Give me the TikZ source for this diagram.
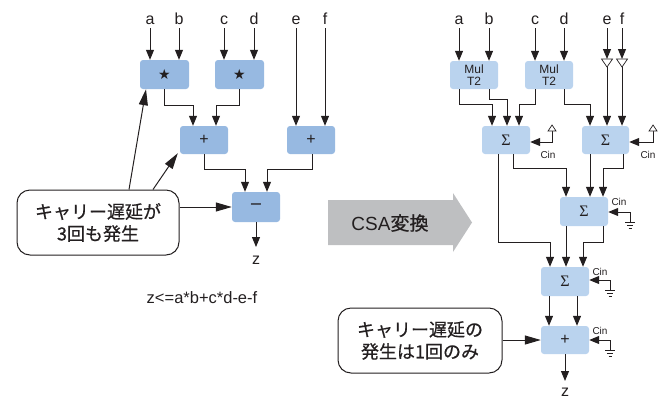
\documentclass[tikz,border=0pt]{standalone}
\usepackage{fontspec}
\setmainfont{Liberation Sans}
\newfontfamily\jp{Noto Sans CJK JP}[FakeBold=0.6]
\newfontfamily\dvs{DejaVu Sans}
\newfontfamily\lserif{Liberation Serif}
\usetikzlibrary{arrows.meta,calc}
\definecolor{ink}{RGB}{35,31,32}
\definecolor{boxL}{RGB}{151,185,225}
\definecolor{boxR}{RGB}{186,211,238}
\definecolor{csagray}{RGB}{190,191,193}
\begin{document}
\begin{tikzpicture}[x=1pt,y=-1pt,
  lbox/.style={fill=boxL, rounded corners=3pt, minimum width=48pt, minimum height=28pt, inner sep=0pt, text=ink},
  rbox/.style={lbox, fill=boxR},
  wire/.style={draw=ink, line width=1pt},
  arr/.style={wire, -{Triangle[length=10pt,width=8pt]}},
  carr/.style={wire, -{Triangle[length=16pt,width=9pt]}},
  inlbl/.style={font=\fontsize{16}{16}\selectfont, inner sep=0pt, anchor=base, text=ink},
  callout/.style={draw=ink, line width=1pt, rounded corners=13pt, minimum width=162pt, minimum height=65pt, align=center, font=\jp\fontsize{18}{22}\selectfont, inner sep=0pt, text=ink},
  cinlbl/.style={font=\fontsize{10}{10}\selectfont, inner sep=0pt, text=ink},
  sym/.style={font=\fontsize{16}{16}\selectfont},
  sigma/.style={font=\lserif\fontsize{16}{16}\selectfont},
  mul/.style={align=center, font=\fontsize{12}{12}\selectfont},
  gnd/.style={draw=ink, line width=0.8pt}
]
\useasboundingbox (0,0) rectangle (666,400);

% ================= LEFT =================
\node[lbox, minimum width=49pt, minimum height=29pt] (mA) at (164.5,74.5) {\dvs\fontsize{14}{14}\selectfont ★};
\node[lbox, minimum width=49pt, minimum height=29pt] (mB) at (239.5,74.5) {\dvs\fontsize{14}{14}\selectfont ★};
\node[lbox, sym] (pA) at (204,140) {+};
\node[lbox, sym] (pB) at (311,140) {+};
\node[lbox, minimum height=30pt, font=\dvs\fontsize{16}{16}\selectfont] (sb) at (256,207) {−};

\node[inlbl] (la) at (150,24) {a};
\node[inlbl] (lb) at (179,24) {b};
\node[inlbl] (lc) at (224,24) {c};
\node[inlbl] (ld) at (254,24) {d};
\node[inlbl] (le) at (296,24) {e};
\node[inlbl] (lf) at (325,24) {f};

\draw[arr] ([yshift=-4pt]la.base) -- (la.base |- mA.north);
\draw[arr] ([yshift=-4pt]lb.base) -- (lb.base |- mA.north);
\draw[arr] ([yshift=-4pt]lc.base) -- (lc.base |- mB.north);
\draw[arr] ([yshift=-4pt]ld.base) -- (ld.base |- mB.north);
\draw[arr] ([yshift=-4pt]le.base) -- (le.base |- pB.north);
\draw[arr] ([yshift=-4pt]lf.base) -- (lf.base |- pB.north);

\draw[arr] (mA.south) -- ++(0,16) -| ([xshift=-11pt]pA.north);
\draw[arr] (mB.south) -- ++(0,16) -| ([xshift=12pt]pA.north);
\draw[arr] (pA.south) -- ++(0,15) -| ([xshift=-11pt]sb.north);
\draw[arr] ([xshift=1pt]pB.south) -- ++(0,15) -| ([xshift=11pt]sb.north);

\coordinate (z1t) at (256,247);
\node[inlbl] (z1) at (256,264) {z};
\draw[arr] (sb.south) -- (z1t);

\node[callout] (co1) at (98,222.5) {キャリー遅延が\\3回も発生};
\draw[carr] ([xshift=31pt]co1.north) -- ([xshift=-18.5pt]mA.south);
\draw[carr] ([xshift=55pt]co1.north) -- ([xshift=-2pt,yshift=1pt]pA.south west);
\draw[carr] (co1.east |- sb.west) -- (sb.west);

\node[font=\fontsize{16.5}{16.5}\selectfont, text=ink, inner sep=0pt] (frm) at (202,298) {z<=a*b+c*d-e-f};

% ================= CSA ARROW =================
\fill[csagray] (328,200) -- (453,200) -- (453,193) -- (472,222.5) -- (453,252) -- (453,245) -- (328,245) -- cycle;
\node[font=\fontsize{19}{19}\selectfont, text=ink] (csa) at (390,223) {CSA{\jp 変換}};

% ================= RIGHT =================
\node[rbox, mul] (tA) at (474,75) {Mul\\T2};
\node[rbox, mul] (tB) at (549,75) {Mul\\T2};
\node[rbox, sigma] (s1) at (506,140) {Σ};
\node[rbox, sigma, minimum width=47pt] (s2) at (605.5,140) {Σ};
\node[rbox, sigma, minimum height=29pt] (s3) at (584,211.5) {Σ};
\node[rbox, sigma, minimum height=29pt] (s4) at (565,281.5) {Σ};
\node[rbox, sym] (ad) at (565,340) {+};

\node[inlbl] (ra) at (459,24) {a};
\node[inlbl] (rb) at (489,24) {b};
\node[inlbl] (rc) at (535,24) {c};
\node[inlbl] (rd) at (564,24) {d};
\node[inlbl] (re) at (607,24) {e};
\node[inlbl] (rf) at (622,24) {f};

\draw[arr] ([yshift=-4pt]ra.base) -- (ra.base |- tA.north);
\draw[arr] ([yshift=-4pt]rb.base) -- (rb.base |- tA.north);
\draw[arr] ([yshift=-4pt]rc.base) -- (rc.base |- tB.north);
\draw[arr] ([yshift=-4pt]rd.base) -- (rd.base |- tB.north);

% buffers on e and f
\coordinate (bE) at (607,59);
\coordinate (bEo) at (607,67);
\coordinate (bF) at (622,59);
\coordinate (bFo) at (622,67);
\draw[arr] ([yshift=-4pt]re.base) -- (bE);
\draw[arr] ([yshift=-4pt]rf.base) -- (bF);
\draw[draw=ink, line width=0.7pt, fill=white] (bE) ++(-5.5,0) -- ++(11,0) -- ++(-5.5,8) -- cycle;
\draw[draw=ink, line width=0.7pt, fill=white] (bF) ++(-5.5,0) -- ++(11,0) -- ++(-5.5,8) -- cycle;
\draw[arr] (bEo) -- (bEo |- s2.north);
\draw[arr] (bFo) -- (bFo |- s2.north);

% multiplier outputs
\draw[arr] ([xshift=-15pt]tA.south) -- ++(0,15) -| ([xshift=-14pt]s1.north);
\draw[arr] ([xshift=15pt]tA.south) -- ++(0,10) -| ([xshift=1pt]s1.north);
\draw[arr] ([xshift=-14pt]tB.south) -- ++(0,15) -| ([xshift=13pt]s1.north);
\draw[arr] ([xshift=15pt]tB.south) -- ++(0,15) -| ([xshift=-15.5pt]s2.north);

% Cin (open) for s1, s2
\coordinate (c1t) at (552,131);
\coordinate (c1b) at (552,142);
\draw[arr] (c1t) -- (c1b) -- (c1b -| s1.east);
\draw[draw=ink, line width=0.7pt, fill=white] (c1t) ++(-4,0) -- ++(8,0) -- ++(-4,-6) -- cycle;
\node[cinlbl] (cin1) at (548,155) {Cin};

\coordinate (c2t) at (653,131);
\coordinate (c2b) at (653,142);
\draw[arr] (c2t) -- (c2b) -- (c2b -| s2.east);
\draw[draw=ink, line width=0.7pt, fill=white] (c2t) ++(-4,0) -- ++(8,0) -- ++(-4,-6) -- cycle;
\node[cinlbl] (cin2) at (648,155) {Cin};

% s1, s2 outputs
\draw[arr] ([xshift=-8pt]s1.south) -- ++(0,88) -| ([xshift=-15pt]s4.north);
\draw[arr] ([xshift=7pt]s1.south) -- ++(0,14) -| ([xshift=-18pt]s3.north);
\draw[arr] ([xshift=-15.5pt]s2.south) -- ([xshift=-15.5pt]s2.south |- s3.north);
\draw[arr] ([xshift=17.5pt]s2.south) -- ++(0,14) -| ([xshift=19pt]s3.north);

% s3 Cin grounded
\coordinate (g3) at (630,212);
\coordinate (g3b) at (630,222);
\draw[arr] (g3b) -- (g3) -- (g3 -| s3.east);
\draw[gnd] (g3b) ++(-5,0) -- ++(10,0);
\draw[gnd] (g3b) ++(-3.2,3) -- ++(6.4,0);
\draw[gnd] (g3b) ++(-1.5,6) -- ++(3,0);
\node[cinlbl] (cin3) at (619,202) {Cin};

% s3 outputs
\draw[arr] ([xshift=-18pt]s3.south) -- ([xshift=-18pt]s3.south |- s4.north);
\draw[arr] ([xshift=19pt]s3.south) -- ++(0,16) -| ([xshift=18pt]s4.north);

% s4 Cin grounded
\coordinate (g4) at (610,280);
\coordinate (g4b) at (610,290);
\draw[arr] (g4b) -- (g4) -- (g4 -| s4.east);
\draw[gnd] (g4b) ++(-5,0) -- ++(10,0);
\draw[gnd] (g4b) ++(-3.2,3) -- ++(6.4,0);
\draw[gnd] (g4b) ++(-1.5,6) -- ++(3,0);
\node[cinlbl] (cin4) at (600,272) {Cin};

% s4 outputs
\draw[arr] ([xshift=-16pt]s4.south) -- ([xshift=-16pt]s4.south |- ad.north);
\draw[arr] ([xshift=12pt]s4.south) -- ([xshift=12pt]s4.south |- ad.north);

% adder Cin grounded
\coordinate (g5) at (610,340);
\coordinate (g5b) at (610,350);
\draw[arr] (g5b) -- (g5) -- (g5 -| ad.east);
\draw[gnd] (g5b) ++(-5,0) -- ++(10,0);
\draw[gnd] (g5b) ++(-3.2,3) -- ++(6.4,0);
\draw[gnd] (g5b) ++(-1.5,6) -- ++(3,0);
\node[cinlbl] (cin5) at (600,331) {Cin};

% output
\coordinate (z2t) at (565,381);
\node[inlbl] (z2) at (565,396.5) {z};
\draw[arr] (ad.south) -- (z2t);

\node[callout, minimum width=164pt] (co2) at (420,340.5) {キャリー遅延の\\発生は1回のみ};
\draw[carr] (co2.east |- ad.west) -- (ad.west);
\end{tikzpicture}
\end{document}
